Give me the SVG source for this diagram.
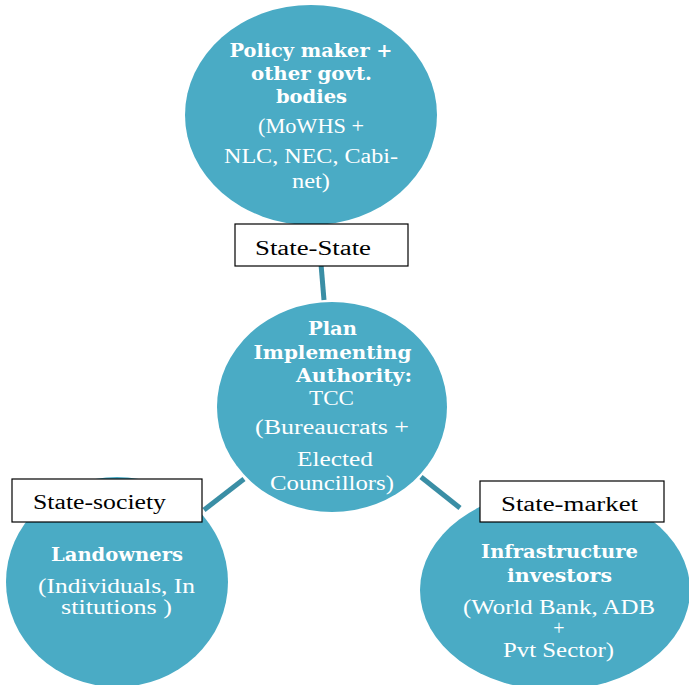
<svg xmlns="http://www.w3.org/2000/svg" width="689" height="685" viewBox="0 0 689 685">
<style>
.node{fill:#4aabc5;}
.t{fill:#ffffff;text-anchor:middle;}
.b{font-family:"DejaVu Serif","Liberation Serif",serif;font-weight:bold;font-size:18px;}
.r{font-family:"Liberation Serif","DejaVu Serif",serif;font-size:20px;}
.lbl{fill:#ffffff;stroke:#000000;stroke-width:1.2;}
.lt{font-family:"Liberation Serif","DejaVu Serif",serif;font-size:20px;fill:#000000;}
.conn{stroke:#3a8ea5;stroke-width:5;fill:none;}
</style>
<rect width="689" height="685" fill="#ffffff"/>
<g id="connectors">
<line class="conn" x1="321" y1="264" x2="324" y2="300"/>
<line class="conn" x1="204" y1="510" x2="244" y2="479"/>
<line class="conn" x1="421" y1="477" x2="460" y2="508"/>
</g>
<g id="policy">
<ellipse class="node" cx="311" cy="115" rx="126" ry="110"/>
<text class="t b" x="311" y="57" textLength="163" lengthAdjust="spacingAndGlyphs">Policy maker +</text>
<text class="t b" x="311.5" y="80" textLength="121" lengthAdjust="spacingAndGlyphs">other govt.</text>
<text class="t b" x="311.5" y="103" textLength="71" lengthAdjust="spacingAndGlyphs">bodies</text>
<text class="t r" x="311" y="133" textLength="106" lengthAdjust="spacingAndGlyphs">(MoWHS +</text>
<text class="t r" x="311" y="163" textLength="174" lengthAdjust="spacingAndGlyphs">NLC, NEC, Cabi-</text>
<text class="t r" x="311" y="188" textLength="38" lengthAdjust="spacingAndGlyphs">net)</text>
</g>
<g id="authority">
<ellipse class="node" cx="332" cy="407" rx="115" ry="105"/>
<text class="t b" x="332.5" y="335" textLength="49" lengthAdjust="spacingAndGlyphs">Plan</text>
<text class="t b" x="332.5" y="359" textLength="158" lengthAdjust="spacingAndGlyphs">Implementing</text>
<text class="t b" x="354" y="382" textLength="116" lengthAdjust="spacingAndGlyphs">Authority:</text>
<text class="t r" x="331.5" y="405" textLength="45" lengthAdjust="spacingAndGlyphs">TCC</text>
<text class="t r" x="332" y="434" textLength="154" lengthAdjust="spacingAndGlyphs">(Bureaucrats +</text>
<text class="t r" x="335" y="466" textLength="76" lengthAdjust="spacingAndGlyphs">Elected</text>
<text class="t r" x="332" y="490" textLength="124" lengthAdjust="spacingAndGlyphs">Councillors)</text>
</g>
<g id="landowners">
<ellipse class="node" cx="117" cy="582" rx="111" ry="105"/>
<text class="t b" x="117" y="561" textLength="132" lengthAdjust="spacingAndGlyphs">Landowners</text>
<text class="t r" x="116.5" y="593" textLength="157" lengthAdjust="spacingAndGlyphs">(Individuals, In</text>
<text class="t r" x="116.5" y="614" textLength="111" lengthAdjust="spacingAndGlyphs">stitutions )</text>
</g>
<g id="investors">
<ellipse class="node" cx="555" cy="590" rx="135" ry="100"/>
<text class="t b" x="559.5" y="558" textLength="157" lengthAdjust="spacingAndGlyphs">Infrastructure</text>
<text class="t b" x="559.5" y="582" textLength="105" lengthAdjust="spacingAndGlyphs">investors</text>
<text class="t r" x="559" y="614" textLength="192" lengthAdjust="spacingAndGlyphs">(World Bank, ADB</text>
<text class="t r" x="559" y="635">+</text>
<text class="t r" x="558.5" y="657" textLength="111" lengthAdjust="spacingAndGlyphs">Pvt Sector)</text>
</g>
<g id="label-state-state">
<rect class="lbl" x="235" y="224" width="173" height="42"/>
<text class="lt" x="255" y="255" textLength="116" lengthAdjust="spacingAndGlyphs">State-State</text>
</g>
<g id="label-state-society">
<rect class="lbl" x="12" y="479" width="190" height="43"/>
<text class="lt" x="33" y="509" textLength="133" lengthAdjust="spacingAndGlyphs">State-society</text>
</g>
<g id="label-state-market">
<rect class="lbl" x="480" y="481" width="184" height="41"/>
<text class="lt" x="501" y="511" textLength="137" lengthAdjust="spacingAndGlyphs">State-market</text>
</g>
</svg>
